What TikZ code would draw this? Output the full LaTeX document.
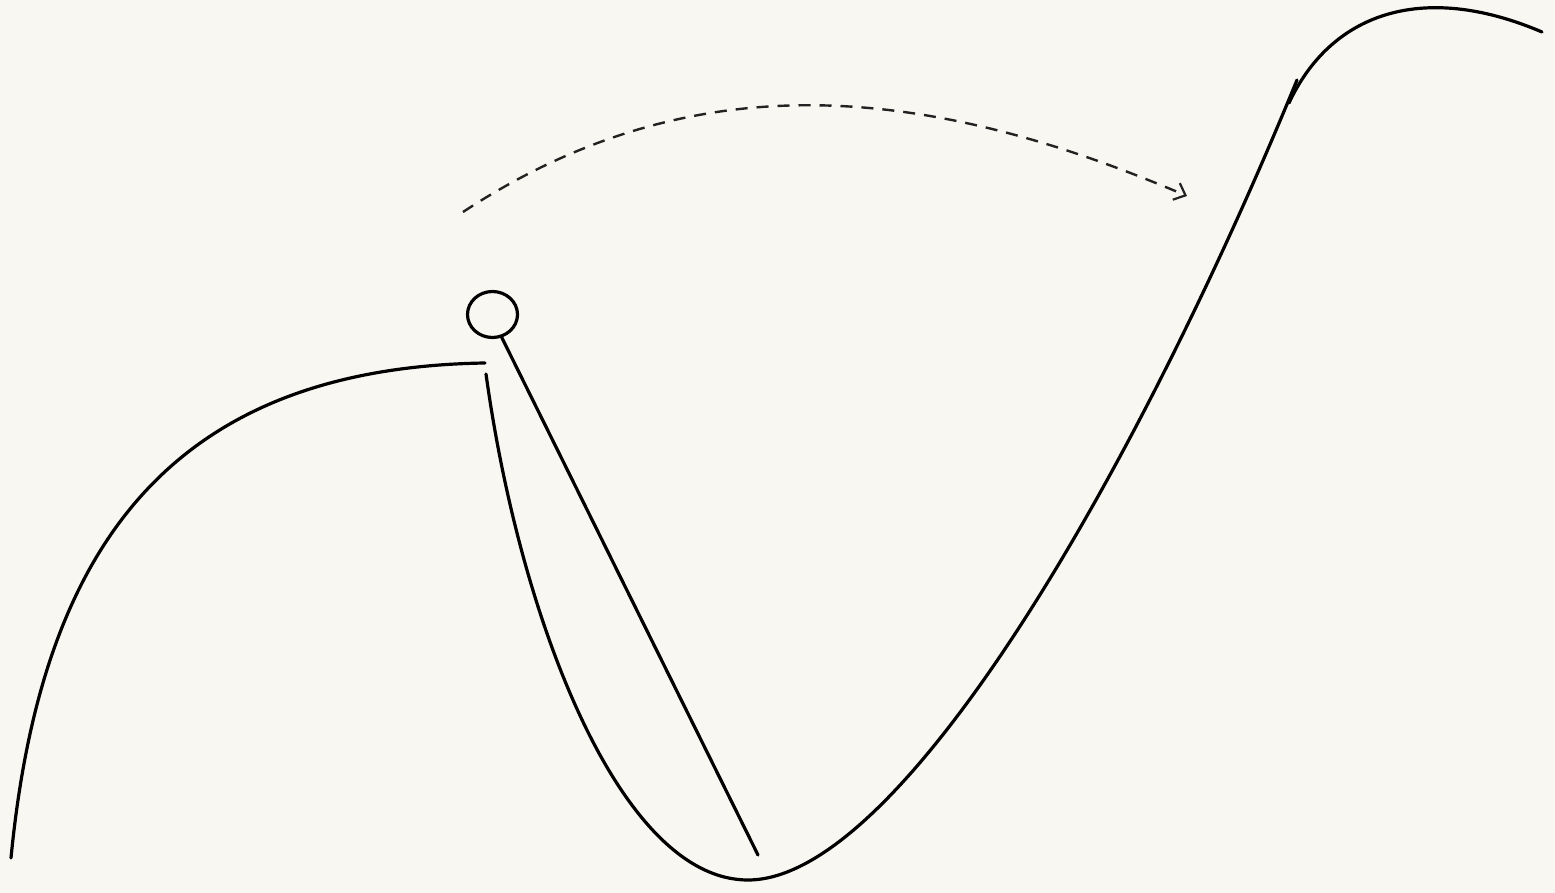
\documentclass[tikz,border=0pt]{standalone}
\usetikzlibrary{arrows.meta,shapes.geometric}
\definecolor{bg}{HTML}{F9F7F1}
\definecolor{dashgray}{HTML}{222222}
\begin{document}
\begin{tikzpicture}[x=0.5pt,y=-0.5pt,
  curve/.style={line width=1.6pt,line cap=round,black},
  guide/.style={line width=1.2pt,dashgray,dash pattern=on 6pt off 4.5pt,-{Straight Barb[length=5pt,width=9pt,line width=1.1pt]}}]
\fill[bg] (0,0) rectangle (1555,893);
\useasboundingbox (0,0) rectangle (1555,893);
% left hill
\coordinate (l0) at (11,858);
\coordinate (l1) at (485,363);
\draw[curve] (l0) .. controls (40,560) and (160,368) .. (l1);
% valley
\coordinate (v0) at (486,374);
\coordinate (vb) at (748,880);
\coordinate (v1) at (1297,80);
\draw[curve] (v0) .. controls (520,620) and (620,880) .. (vb)
  .. controls (900,880) and (1135,475) .. (v1);
% top hump
\coordinate (t0) at (1289,103);
\coordinate (t1) at (1542,32);
\draw[curve] (t0) .. controls (1330,15) and (1420,-20) .. (t1);
% ball and stick
\node[draw,line width=1.6pt,ellipse,minimum width=25pt,minimum height=23pt,inner sep=0pt] (ball) at (492.5,314.5) {};
\coordinate (stick) at (758,855);
\draw[curve] (ball.-68) -- (stick);
% dashed arrow
\coordinate (a0) at (463,212);
\coordinate (a1) at (1187,196);
\draw[guide] (a0) .. controls (690,63) and (920,82) .. (a1);
\end{tikzpicture}
\end{document}
